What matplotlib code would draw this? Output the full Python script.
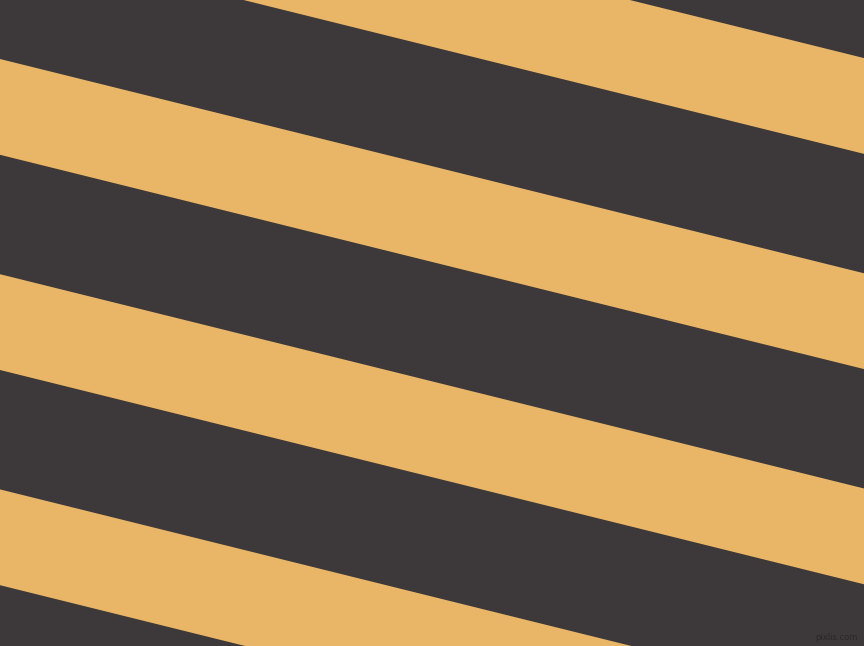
import matplotlib
matplotlib.use("Agg")
import matplotlib.pyplot as plt
import numpy as np

# Stripe data (pixel units of the image)
band_intercepts = [-156.2, 59.0, 274.2, 489.4]  # upper edge of each light band at x=0
band_width = 95.8                                 # vertical thickness of light band
slope = 0.248                                     # drop per pixel to the right
dark_color = "#3d3839"
light_color = "#e9b668"
watermark = "pixlis.com"

W, H = 864, 646
fig = plt.figure(figsize=(W / 100, H / 100), dpi=100)
ax = fig.add_axes([0, 0, 1, 1])
ax.set_xlim(0, W)
ax.set_ylim(H, 0)
ax.set_facecolor(dark_color)
ax.axis("off")
fig.patch.set_facecolor(dark_color)

x = np.array([0, W])
for b in band_intercepts:
    ax.fill_between(x, b + slope * x, b + band_width + slope * x,
                    color=light_color, linewidth=0)

ax.text(858, 638, watermark, ha="right", va="center", fontsize=6,
        color="#2b2728", family="DejaVu Sans")

fig.savefig("out.png", dpi=100, facecolor=dark_color)
